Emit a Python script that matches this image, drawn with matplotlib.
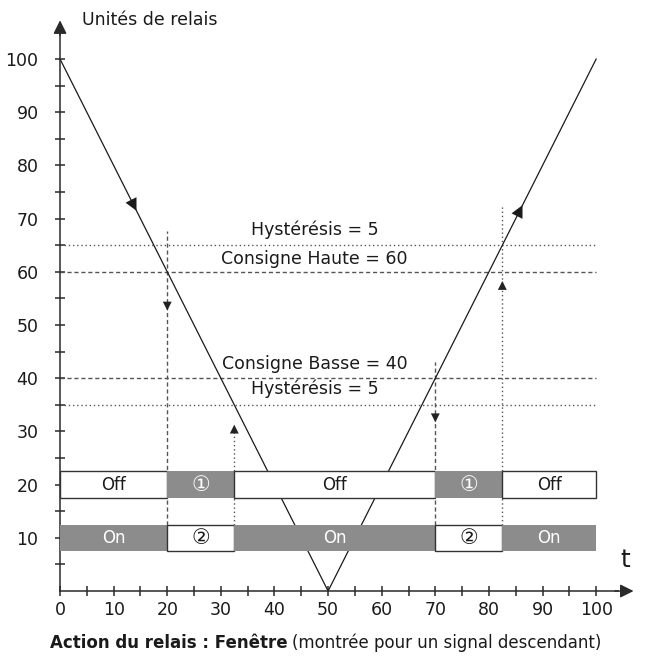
import numpy as np
import matplotlib.pyplot as plt

plt.rcParams['font.family'] = ['DejaVu Sans', 'Noto Sans CJK SC']

# signal (V shape)
sig_t = [0, 50, 100]
sig_y = [100, 0, 100]

# thresholds
hyst_hi, cons_hi = 65, 60
cons_lo, hyst_lo = 40, 35

# switching instants
t_switch = [20, 32.5, 70, 82.5]

# relay bars: (start, end, filled, label)
off_row = [(0, 20, False, "Off"), (20, 32.5, True, "\u2460"), (32.5, 70, False, "Off"),
           (70, 82.5, True, "\u2460"), (82.5, 100, False, "Off")]
on_row = [(0, 20, True, "On"), (20, 32.5, False, "\u2461"), (32.5, 70, True, "On"),
          (70, 82.5, False, "\u2461"), (82.5, 100, True, "On")]

xticks = np.arange(0, 101, 10)
yticks = np.arange(10, 101, 10)

gray = '#8c8c8c'
dark = '#2a2a2a'

fig = plt.figure(figsize=(6.46, 6.57), dpi=100)
ax = fig.add_axes([0, 0, 1, 1])
ax.set_xlim(-11.2, 109.3)
ax.set_ylim(-12.4, 111.1)

for s in ['top', 'right']:
    ax.spines[s].set_visible(False)
ax.spines['left'].set_position(('data', 0))
ax.spines['bottom'].set_position(('data', 0))
ax.spines['left'].set_bounds(0, 106)
ax.spines['bottom'].set_bounds(0, 104)
ax.spines['left'].set_color(dark)
ax.spines['bottom'].set_color(dark)
ax.spines['left'].set_linewidth(1.1)
ax.spines['bottom'].set_linewidth(1.1)

ax.set_xticks(xticks)
ax.set_xticks(np.arange(5, 101, 10), minor=True)
ax.set_yticks(yticks)
ax.set_yticks(np.arange(5, 101, 10), minor=True)
ax.tick_params(which='both', direction='inout', length=7, width=1.1, color=dark,
               labelsize=12.5, labelcolor='#1a1a1a')
ax.tick_params(axis='x', pad=4)
ax.tick_params(axis='y', pad=12)

# axis arrows
ax.annotate('', xy=(107.5, 0), xytext=(103, 0),
            arrowprops=dict(arrowstyle='-|>', mutation_scale=20, color=dark, lw=1.1))
ax.annotate('', xy=(0, 107.8), xytext=(0, 104),
            arrowprops=dict(arrowstyle='-|>', mutation_scale=20, color=dark, lw=1.1))

# threshold lines
ax.plot([0, 100], [hyst_hi, hyst_hi], ls=(0, (1, 2)), color='#555555', lw=1)
ax.plot([0, 100], [cons_hi, cons_hi], ls=(0, (3, 2)), color='#555555', lw=1)
ax.plot([0, 100], [cons_lo, cons_lo], ls=(0, (3, 2)), color='#555555', lw=1)
ax.plot([0, 100], [hyst_lo, hyst_lo], ls=(0, (1, 2)), color='#555555', lw=1)

# vertical switching lines and their arrows
v_top = [67.7, 31, 43, 72.4]
v_arrow = [54, 30, 33, 57]
v_style = [(0, (3, 2)), (0, (1, 2)), (0, (3, 2)), (0, (1, 2))]
for t, top, ay, st in zip(t_switch, v_top, v_arrow, v_style):
    ax.plot([t, t], [12.5, top], ls=st, color='#555555', lw=1)
    d = -1 if st == (0, (3, 2)) else 1
    ax.annotate('', xy=(t, ay + d * 1.8), xytext=(t, ay - d * 1.8),
                arrowprops=dict(arrowstyle='-|>', mutation_scale=16, color='#222222', lw=0))

# signal
ax.plot(sig_t, sig_y, color='#1a1a1a', lw=0.9)
ax.annotate('', xy=(14.5, 71.0), xytext=(12.3, 75.4),
            arrowprops=dict(arrowstyle='-|>', mutation_scale=22, color='#1a1a1a', lw=0))
ax.annotate('', xy=(86.5, 73.0), xytext=(84.3, 68.6),
            arrowprops=dict(arrowstyle='-|>', mutation_scale=22, color='#1a1a1a', lw=0))

# relay bars
def draw_row(row, y0, h):
    for a, b, filled, lab in row:
        fs = 12 if lab in ("On", "Off") else 15
        if filled:
            ax.bar(a, h, width=b - a, bottom=y0, align='edge', color=gray, lw=0, zorder=3)
            ax.text((a + b) / 2, y0 + h / 2, lab, color='white', ha='center', va='center',
                    fontsize=fs, zorder=4)
        else:
            ax.bar(a, h, width=b - a, bottom=y0, align='edge', color='white',
                   edgecolor='#333333', lw=1, zorder=3)
            ax.text((a + b) / 2, y0 + h / 2, lab, color='#1a1a1a', ha='center', va='center',
                    fontsize=fs, zorder=4)

draw_row(off_row, 17.5, 5)
draw_row(on_row, 7.5, 5)

# labels
ax.text(47.5, 67.9, "Hystérésis = 5", ha='center', va='center', fontsize=12.5, color='#1a1a1a')
ax.text(47.5, 62.5, "Consigne Haute = 60", ha='center', va='center', fontsize=12.5, color='#1a1a1a')
ax.text(47.5, 42.7, "Consigne Basse = 40", ha='center', va='center', fontsize=12.5, color='#1a1a1a')
ax.text(47.5, 38.0, "Hystérésis = 5", ha='center', va='center', fontsize=12.5, color='#1a1a1a')

ax.text(4.1, 107.3, "Unités de relais", ha='left', va='center', fontsize=12.5, color='#1a1a1a')
ax.text(105.4, 5.8, "t", ha='center', va='center', fontsize=18, color='#1a1a1a')

ax.text(42.4, -9.8, "Action du relais : Fenêtre", ha='right', va='center', fontsize=12,
        fontweight='bold', color='#1a1a1a')
ax.text(43.2, -9.8, "(montrée pour un signal descendant)", ha='left', va='center',
        fontsize=12, color='#1a1a1a')

fig.savefig('out.png', dpi=100)
